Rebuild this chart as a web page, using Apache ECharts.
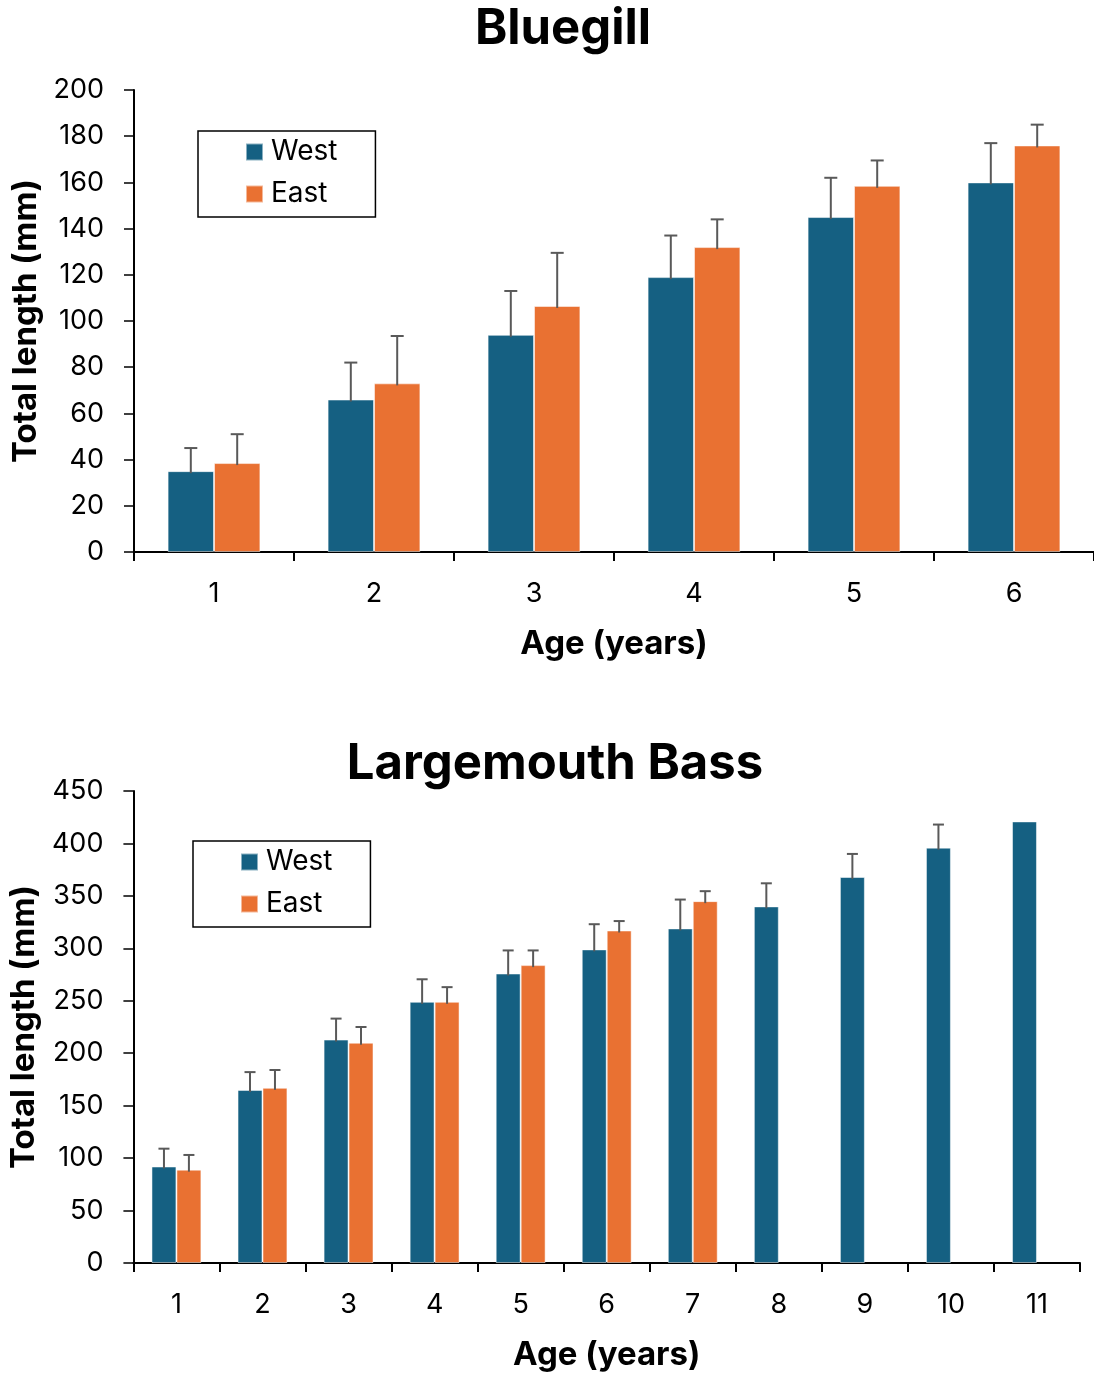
<!DOCTYPE html>
<html>
<head>
<meta charset="utf-8">
<script src="https://cdn.jsdelivr.net/npm/echarts@6/dist/echarts.min.js"></script>
<style>
html,body{margin:0;padding:0;background:#fff;}
#chart{width:1094px;height:1373px;}
</style>
</head>
<body>
<div id="chart"></div>
<script>
// ---- Bluegill ----
const bluegillAges = ['1', '2', '3', '4', '5', '6'];
const bluegillWest = [35, 66, 94, 119, 145, 160];
const bluegillWestErr = [10, 16, 19, 18, 17, 17];
const bluegillEast = [38.5, 73, 106.5, 132, 158.5, 176];
const bluegillEastErr = [12.5, 20.5, 23, 12, 11, 9];
const bluegillYTicks = { min: 0, max: 200, interval: 20 };

// ---- Largemouth Bass ----
const bassAges = ['1', '2', '3', '4', '5', '6', '7', '8', '9', '10', '11'];
const bassWest = [92, 165, 213, 249, 276, 299, 319, 340, 368, 396, 421];
const bassWestErr = [17, 17, 20, 21.5, 22, 24, 27.5, 22, 22, 22, null];
const bassEast = [89, 167, 210, 249, 284, 317, 345, null, null, null, null];
const bassEastErr = [14, 17, 15, 14, 14, 9, 9.5, null, null, null, null];
const bassYTicks = { min: 0, max: 450, interval: 50 };

const WEST = '#156082';
const EAST = '#E97132';
const ERR = '#595959';
const FONT = 'Inter';
const CAT_GAP = 0.42;

function errData(vals, errs) {
  const out = [];
  vals.forEach((v, i) => {
    if (v != null && errs[i] != null) out.push([i, v, v + errs[i]]);
  });
  return out;
}

function errSeries(name, xi, vals, errs, side, capW) {
  return {
    type: 'custom',
    name: name + ' err',
    xAxisIndex: xi, yAxisIndex: xi,
    z: 5,
    silent: true,
    encode: { x: 0, y: [1, 2] },
    data: errData(vals, errs),
    renderItem: function (params, api) {
      const cat = api.value(0);
      const lo = api.coord([cat, api.value(1)]);
      const hi = api.coord([cat, api.value(2)]);
      const cw = api.size([1, 0])[0];
      const bw = cw * (1 - CAT_GAP) / 2;
      const x = lo[0] + side * bw / 2;
      const style = { stroke: ERR, lineWidth: 2 };
      return {
        type: 'group',
        children: [
          { type: 'line', shape: { x1: x, y1: lo[1] + 2, x2: x, y2: hi[1] }, style: style },
          { type: 'line', shape: { x1: x - capW / 2, y1: hi[1], x2: x + capW / 2, y2: hi[1] }, style: style }
        ]
      };
    }
  };
}

function xAxis(gi, cats, gap) {
  return {
    type: 'category', gridIndex: gi, data: cats,
    axisLine: { lineStyle: { color: '#000', width: 2 } },
    axisTick: { show: true, length: 9, lineStyle: { color: '#000', width: 2 } },
    axisLabel: { color: '#000', fontSize: 27, fontFamily: FONT, margin: 28 },
    name: 'Age (years)', nameLocation: 'middle', nameGap: gap,
    nameTextStyle: { color: '#000', fontSize: 33, fontWeight: 'bold', fontFamily: FONT }
  };
}

function yAxis(gi, t, gap) {
  return {
    type: 'value', gridIndex: gi, min: t.min, max: t.max, interval: t.interval,
    axisLine: { show: true, lineStyle: { color: '#000', width: 2 } },
    axisTick: { show: true, length: 10, lineStyle: { color: '#000', width: 1.5 } },
    splitLine: { show: false },
    axisLabel: { color: '#000', fontSize: 27, fontFamily: FONT, margin: 30 },
    name: 'Total length (mm)', nameLocation: 'middle', nameGap: gap,
    nameTextStyle: { color: '#000', fontSize: 33, fontWeight: 'bold', fontFamily: FONT }
  };
}

function barSeries(name, xi, data, color) {
  return {
    type: 'bar', name: name, xAxisIndex: xi, yAxisIndex: xi, data: data,
    barGap: '0%', barCategoryGap: (CAT_GAP * 100) + '%',
    itemStyle: { color: color, borderColor: 'rgba(255,255,255,0.5)', borderWidth: 1 },
    emphasis: { disabled: true }
  };
}

function legend(left, top) {
  return {
    orient: 'vertical', left: left, top: top,
    data: ['West', 'East'],
    icon: 'rect', itemWidth: 17, itemHeight: 17, itemGap: 14,
    padding: [7, 38, 9, 47],
    borderColor: '#000', borderWidth: 1.5,
    textStyle: { color: '#000', fontSize: 28, fontFamily: FONT, padding: [0, 0, 0, 3] },
    selectedMode: false
  };
}

const chart = echarts.init(document.getElementById('chart'), null, { renderer: 'canvas' });

chart.setOption({
  animation: false,
  backgroundColor: '#fff',
  title: [
    { text: 'Bluegill', left: 563, top: 5, textAlign: 'center', padding: 0,
      textStyle: { fontSize: 49, fontWeight: 'bold', color: '#000', fontFamily: FONT } },
    { text: 'Largemouth Bass', left: 555, top: 740, textAlign: 'center', padding: 0,
      textStyle: { fontSize: 49, fontWeight: 'bold', color: '#000', fontFamily: FONT } }
  ],
  legend: [legend(198, 131), legend(193, 841)],
  grid: [
    { left: 134, top: 90, width: 963, height: 462 },
    { left: 132, top: 791, width: 948, height: 474 }
  ],
  xAxis: [xAxis(0, bluegillAges, 76), xAxis(1, bassAges, 76)],
  yAxis: [yAxis(0, bluegillYTicks, 89), yAxis(1, bassYTicks, 88)],
  series: [
    barSeries('West', 0, bluegillWest, WEST),
    barSeries('East', 0, bluegillEast, EAST),
    errSeries('West', 0, bluegillWest, bluegillWestErr, -1, 13),
    errSeries('East', 0, bluegillEast, bluegillEastErr, 1, 13),
    barSeries('West', 1, bassWest, WEST),
    barSeries('East', 1, bassEast, EAST),
    errSeries('West', 1, bassWest, bassWestErr, -1, 11),
    errSeries('East', 1, bassEast, bassEastErr, 1, 11)
  ]
});
</script>
</body>
</html>
